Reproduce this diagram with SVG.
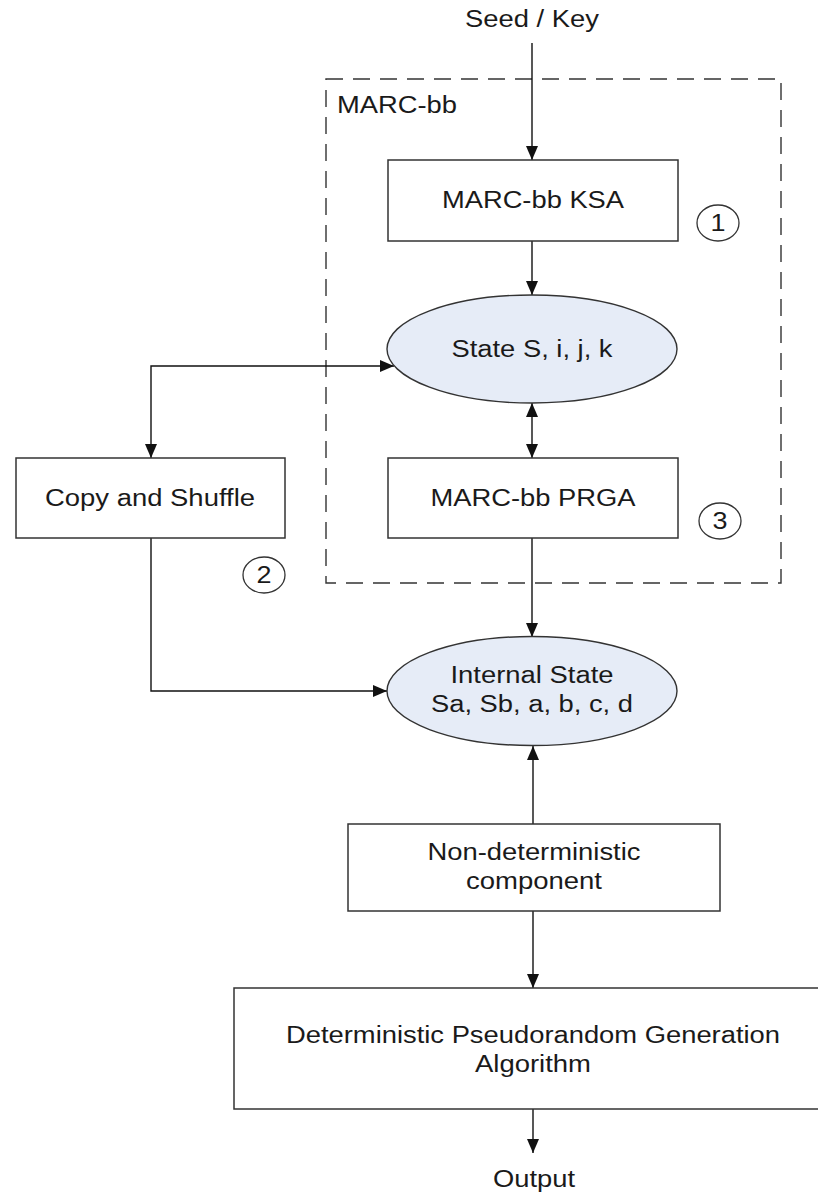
<svg xmlns="http://www.w3.org/2000/svg" width="818" height="1193" viewBox="0 0 818 1193">
<defs>
<marker id="arr" viewBox="0 0 14 12" refX="14" refY="6" markerWidth="14" markerHeight="12" markerUnits="userSpaceOnUse" orient="auto-start-reverse">
<path d="M0,0 L14,6 L0,12 Z" fill="#111"/>
</marker>
<style>
.t{font-family:"Liberation Sans",Arial,sans-serif;font-size:23px;fill:#1a1a1a;text-anchor:middle}
.box{fill:#fff;stroke:#333;stroke-width:1.5}
.ell{fill:#e6ecf7;stroke:#333;stroke-width:1.4}
.num{fill:none;stroke:#333;stroke-width:1.3}
.c{fill:none;stroke:#111;stroke-width:1.4}
.ca{fill:none;stroke:#111;stroke-width:1.4;marker-end:url(#arr)}
.cb{fill:none;stroke:#111;stroke-width:1.4;marker-start:url(#arr);marker-end:url(#arr)}
</style>
</defs>
<rect width="818" height="1193" fill="#fff"/>

<g id="marcbb-group">
<rect x="326" y="79" width="455" height="504" fill="none" stroke="#333" stroke-width="1.4" stroke-dasharray="17,10"/>
<text class="t" x="337" y="113" style="text-anchor:start" textLength="120" lengthAdjust="spacingAndGlyphs">MARC-bb</text>
</g>

<g id="connectors">
<path class="ca" d="M532,43 V160"/>
<path class="ca" d="M532,241 V295"/>
<path class="cb" d="M532,403 V458"/>
<path class="cb" d="M394,366 H151 V458"/>
<path class="ca" d="M532,538 V637"/>
<path class="ca" d="M151,538 V691 H387"/>
<path class="ca" d="M533,824 V746"/>
<path class="ca" d="M533,911 V988"/>
<path class="ca" d="M533,1109 V1153"/>
</g>

<g id="seed">
<text class="t" x="532" y="27" textLength="134" lengthAdjust="spacingAndGlyphs">Seed / Key</text>
</g>

<g id="ksa">
<rect class="box" x="388" y="160" width="290" height="81"/>
<text class="t" x="533" y="208" textLength="182" lengthAdjust="spacingAndGlyphs">MARC-bb KSA</text>
</g>

<g id="label1">
<ellipse class="num" cx="718" cy="223" rx="21" ry="18"/>
<text class="t" x="718" y="231" textLength="15" lengthAdjust="spacingAndGlyphs">1</text>
</g>

<g id="state">
<ellipse class="ell" cx="532" cy="349" rx="145" ry="54"/>
<text class="t" x="532" y="357" textLength="161" lengthAdjust="spacingAndGlyphs">State S, i, j, k</text>
</g>

<g id="copy">
<rect class="box" x="16" y="458" width="269" height="80"/>
<text class="t" x="150" y="506" textLength="210" lengthAdjust="spacingAndGlyphs">Copy and Shuffle</text>
</g>

<g id="prga">
<rect class="box" x="388" y="458" width="290" height="80"/>
<text class="t" x="533" y="506" textLength="205" lengthAdjust="spacingAndGlyphs">MARC-bb PRGA</text>
</g>

<g id="label3">
<ellipse class="num" cx="720" cy="521" rx="21" ry="18"/>
<text class="t" x="720" y="529" textLength="15" lengthAdjust="spacingAndGlyphs">3</text>
</g>

<g id="label2">
<ellipse class="num" cx="264" cy="575" rx="21" ry="18"/>
<text class="t" x="264" y="583" textLength="15" lengthAdjust="spacingAndGlyphs">2</text>
</g>

<g id="internal">
<ellipse class="ell" cx="532" cy="691" rx="145" ry="54.5"/>
<text class="t" x="532" y="683" textLength="163" lengthAdjust="spacingAndGlyphs">Internal State</text>
<text class="t" x="532" y="712" textLength="202" lengthAdjust="spacingAndGlyphs">Sa, Sb, a, b, c, d</text>
</g>

<g id="nondet">
<rect class="box" x="348" y="824" width="372" height="87"/>
<text class="t" x="534" y="860" textLength="213" lengthAdjust="spacingAndGlyphs">Non-deterministic</text>
<text class="t" x="534" y="889" textLength="136" lengthAdjust="spacingAndGlyphs">component</text>
</g>

<g id="det">
<rect class="box" x="234" y="988" width="598" height="121"/>
<text class="t" x="533" y="1043" textLength="494" lengthAdjust="spacingAndGlyphs">Deterministic Pseudorandom Generation</text>
<text class="t" x="533" y="1072" textLength="116" lengthAdjust="spacingAndGlyphs">Algorithm</text>
</g>

<g id="output">
<text class="t" x="534" y="1187" textLength="82" lengthAdjust="spacingAndGlyphs">Output</text>
</g>
</svg>
